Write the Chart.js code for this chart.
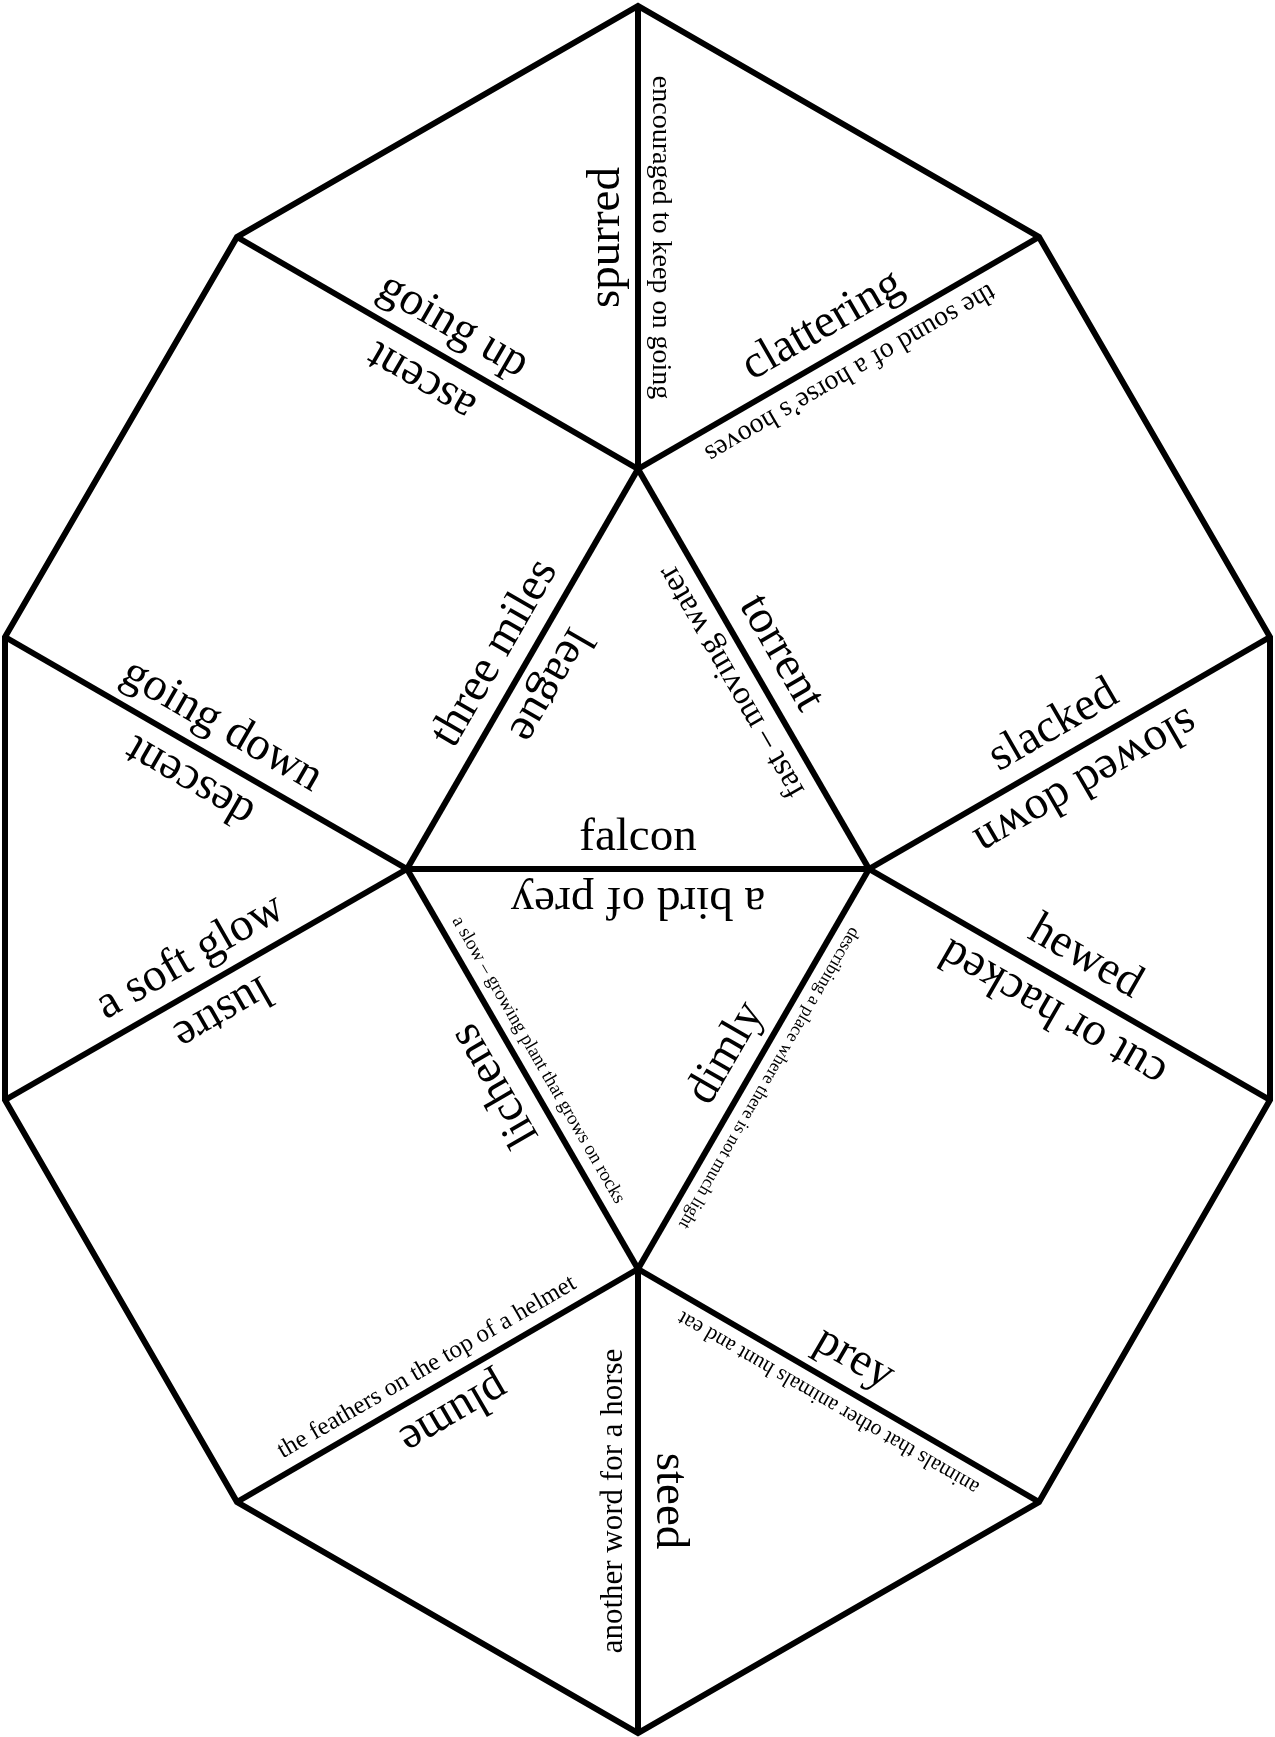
<!DOCTYPE html>
<html>
<head>
<meta charset="utf-8">
<script src="https://cdn.jsdelivr.net/npm/chart.js@4.4.0/dist/chart.umd.min.js"></script>
<style>
  html, body { margin: 0; padding: 0; background: #fff; }
  #wrap { width: 1275px; height: 1737px; position: relative; }
</style>
</head>
<body>
<div id="wrap"><canvas id="chart"></canvas></div>
<script>
// corners of the pieces (x to the right, y downwards)
const vertexNames = ['top', 'UL', 'UR', 'Lt', 'Rt', 'Lb', 'Rb', 'LL', 'LR', 'bot', 'C0', 'C1', 'C2', 'C3'];
const vertexX = [638, 237, 1039, 5, 1270, 5, 1270, 237, 1039, 638, 638, 407, 869, 638];
const vertexY = [6, 237, 237, 637, 637, 1100, 1100, 1502, 1502, 1733, 469, 869, 869, 1269];

// outline, closed (first edge repeated so the corner gets a proper join)
const outline = ['top', 'UR', 'Rt', 'Rb', 'LR', 'bot', 'LL', 'Lb', 'Lt', 'UL', 'top', 'UR'];

// inner cuts
const edges = [
    ['top', 'C0'], ['UL', 'C0'], ['UR', 'C0'], ['C0', 'C1'], ['C0', 'C2'],
    ['C1', 'C2'], ['Lt', 'C1'], ['Lb', 'C1'], ['Rt', 'C2'], ['Rb', 'C2'],
    ['C1', 'C3'], ['C2', 'C3'], ['LL', 'C3'], ['LR', 'C3'], ['C3', 'bot']
];

// words on each cut: which edge, which side (a corner on that side), text
const labelEdge = [0, 0, 1, 1, 2, 2, 3, 3, 4, 4, 5, 5, 6, 6, 7, 7, 8, 8, 9, 9, 10, 10, 11, 11, 12, 12, 13, 13, 14, 14];
const labelSide = ['UL', 'UR', 'top', 'C1', 'top', 'C2', 'UL', 'C2', 'UR', 'C1', 'C0', 'C3', 'UL', 'Lb', 'Lt', 'C3',
    'C0', 'Rb', 'Rt', 'C3', 'Lb', 'C2', 'C1', 'Rb', 'C1', 'bot', 'C2', 'bot', 'LL', 'LR'];
const labelText = [
    'spurred', 'encouraged to keep on going',
    'going up', 'ascent',
    'clattering', 'the sound of a horse\u2019s hooves',
    'three miles', 'league',
    'torrent', 'fast \u2013 moving water',
    'falcon', 'a bird of prey',
    'going down', 'descent',
    'a soft glow', 'lustre',
    'slacked', 'slowed down',
    'hewed', 'cut or hacked',
    'lichens', 'a slow \u2013 growing plant that grows on rocks',
    'dimly', 'describing a place where there is not much light',
    'the feathers on the top of a helmet', 'plume',
    'prey', 'animals that other animals hunt and eat',
    'another word for a horse', 'steed'
];

// font size of each label (px)
const labelSize = [47, 28, 47, 47, 47, 28, 47, 47, 47, 33, 47, 47, 47, 47, 47, 47,
    47, 47, 47, 47, 47, 19, 47, 18, 25, 47, 47, 22, 31, 47];

const pt = (name) => {
    const i = vertexNames.indexOf(name);
    return { x: vertexX[i], y: vertexY[i] };
};

const lineStyle = {
    borderColor: '#000',
    borderWidth: 6,
    pointRadius: 0,
    showLine: true,
    fill: false,
    tension: 0,
    clip: false,
    borderJoinStyle: 'miter',
    borderCapStyle: 'butt'
};

const datasets = [{ ...lineStyle, data: outline.map(pt) }];
edges.forEach(e => datasets.push({ ...lineStyle, data: e.map(pt) }));

// writes the words along the cuts, positioned with the chart scales
const labelPlugin = {
    id: 'edgeLabels',
    afterDatasetsDraw(chart) {
        const ctx = chart.ctx;
        const sx = chart.scales.x, sy = chart.scales.y;
        const px = (name) => {
            const p = pt(name);
            return { x: sx.getPixelForValue(p.x), y: sy.getPixelForValue(p.y) };
        };
        ctx.save();
        ctx.fillStyle = '#000';
        ctx.textAlign = 'center';
        ctx.textBaseline = 'alphabetic';
        labelText.forEach((text, i) => {
            const e = edges[labelEdge[i]];
            const a = px(e[0]), b = px(e[1]), s = px(labelSide[i]);
            const len = Math.hypot(b.x - a.x, b.y - a.y);
            const dx = (b.x - a.x) / len, dy = (b.y - a.y) / len;
            const mx = (a.x + b.x) / 2, my = (a.y + b.y) / 2;
            let nx = -dy, ny = dx;
            if ((s.x - mx) * nx + (s.y - my) * ny < 0) { nx = -nx; ny = -ny; }
            const size = labelSize[i];
            const off = 9 + 0.22 * size;
            ctx.save();
            ctx.translate(mx + nx * off, my + ny * off);
            ctx.rotate(Math.atan2(nx, -ny));
            ctx.font = size + 'px "Liberation Serif", "Times New Roman", serif';
            ctx.fillText(text, 0, 0);
            ctx.restore();
        });
        ctx.restore();
    }
};

new Chart(document.getElementById('chart').getContext('2d'), {
    type: 'scatter',
    data: { datasets: datasets },
    options: {
        responsive: true,
        maintainAspectRatio: false,
        animation: false,
        layout: { padding: 0 },
        plugins: { legend: { display: false }, tooltip: { enabled: false } },
        scales: {
            x: { type: 'linear', min: 0, max: 1275, display: false },
            y: { type: 'linear', min: 0, max: 1737, reverse: true, display: false }
        }
    },
    plugins: [labelPlugin]
});
</script>
</body>
</html>
